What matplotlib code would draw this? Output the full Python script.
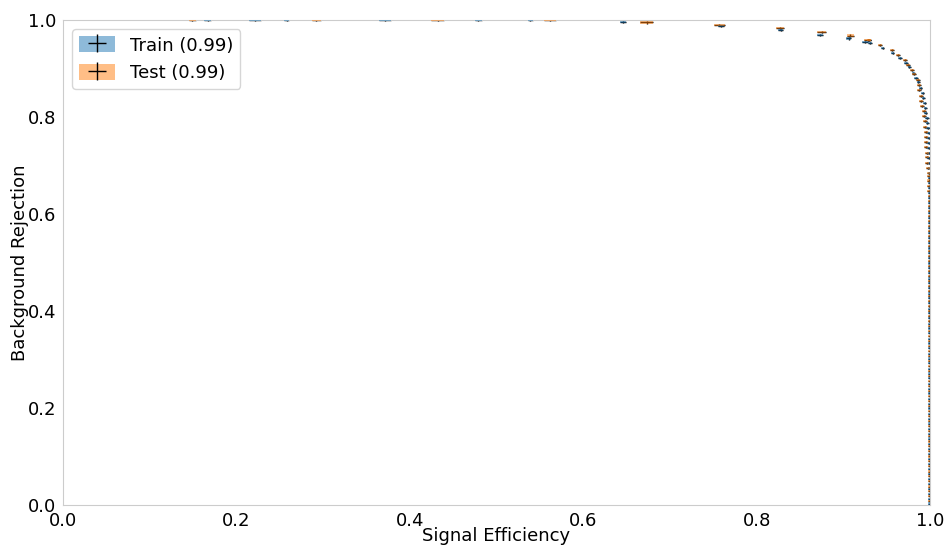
#!/usr/bin/env python3

import matplotlib
matplotlib.use("Agg")
import matplotlib.pyplot as plt
import seaborn as sns
from matplotlib.collections import PatchCollection
from matplotlib.patches import Patch, Rectangle

# ROC points: signal efficiency vs background rejection
train_eff = [0.167, 0.221, 0.258, 0.371, 0.479, 0.539, 0.646, 0.759, 0.828, 0.873, 0.906, 0.925,
             0.9308, 0.9455, 0.9570, 0.9654, 0.9723, 0.9761, 0.9807, 0.9839, 0.9865, 0.9893,
             0.9916, 0.9923, 0.9939, 0.9946, 0.9950, 0.9965, 0.9969, 0.9977, 0.9985, 0.9985,
             0.9985, 0.9988, 0.9988, 0.9988, 0.9992, 0.9996,
             0.9997, 0.9997, 0.9997, 0.9998, 0.9998, 0.9998, 0.9998, 0.9998, 0.9998, 0.9999,
             0.9999, 0.9999, 0.9999, 0.9999, 0.9999, 0.9999, 0.9999, 0.9999, 0.9999, 0.9999,
             0.9999, 0.9999, 0.9999, 0.9999, 0.9999, 0.9999, 0.9999, 0.9999, 0.9999, 0.9999,
             0.9999, 0.9999, 0.9999, 0.9999, 0.9999, 0.9999, 0.9999, 0.9999, 0.9999, 0.9999,
             0.9999, 0.9999, 0.9999, 0.9999, 0.9999, 0.9999, 0.9999, 0.9999, 0.9999, 0.9999,
             0.9999, 0.9999, 0.9999, 0.9999, 0.9999, 0.9999, 0.9999, 0.9999, 0.9999, 0.9999,
             0.9999, 0.9999, 0.9999, 0.9999, 0.9999, 0.9999, 1.0]
train_rej = [1.0, 1.0, 1.0, 1.0, 1.0, 1.0, 0.996, 0.987, 0.979, 0.970, 0.962, 0.955,
             0.9532, 0.9429, 0.9326, 0.9223, 0.9120, 0.9025, 0.8914, 0.8810, 0.8715, 0.8604,
             0.8501, 0.8398, 0.8295, 0.8192, 0.8089, 0.7986, 0.7883, 0.7779, 0.7676, 0.7573,
             0.7470, 0.7367, 0.7264, 0.7161, 0.7045, 0.6942,
             0.684, 0.674, 0.664, 0.653, 0.643, 0.633, 0.622, 0.612, 0.602, 0.591,
             0.581, 0.571, 0.560, 0.550, 0.540, 0.529, 0.519, 0.509, 0.498, 0.488,
             0.478, 0.467, 0.457, 0.447, 0.436, 0.426, 0.416, 0.405, 0.395, 0.385,
             0.374, 0.364, 0.354, 0.343, 0.333, 0.323, 0.312, 0.302, 0.292, 0.281,
             0.271, 0.261, 0.250, 0.240, 0.230, 0.219, 0.209, 0.199, 0.188, 0.178,
             0.168, 0.157, 0.147, 0.137, 0.126, 0.116, 0.106, 0.095, 0.085, 0.075,
             0.064, 0.054, 0.044, 0.033, 0.023, 0.013, 0.003]
train_xerr_top = [0.004, 0.007, 0.003, 0.007, 0.004, 0.003, 0.003, 0.003, 0.003, 0.003, 0.003, 0.003]

test_eff = [0.149, 0.292, 0.432, 0.562, 0.673, 0.757, 0.827, 0.875, 0.908, 0.928,
            0.9296, 0.9423, 0.9562, 0.9631, 0.9712, 0.9746, 0.9792, 0.9815, 0.9862, 0.9873,
            0.9873, 0.9896, 0.9896, 0.9908, 0.9931, 0.9931, 0.9942, 0.9942, 0.9954, 0.9954,
            0.9954, 0.9954, 0.9965, 0.9965, 0.9965, 0.9977, 0.9988,
            0.9988, 0.9989, 0.9989, 0.9989, 0.9990, 0.9990, 0.9990, 0.9990, 0.9991, 0.9991,
            0.9991, 0.9991, 0.9992, 0.9992, 0.9992, 0.9992, 0.9992, 0.9993, 0.9993, 0.9993,
            0.9993, 0.9993, 0.9993, 0.9994, 0.9994, 0.9994, 0.9994, 0.9994, 0.9994, 0.9994,
            0.9995, 0.9995, 0.9995, 0.9995, 0.9995, 0.9995, 0.9995, 0.9995, 0.9995, 0.9995,
            0.9996, 0.9996, 0.9996, 0.9996, 0.9996, 0.9996, 0.9996, 0.9996, 0.9996, 0.9996,
            0.9996, 0.9997, 0.9997, 0.9997, 0.9997, 0.9997, 0.9997, 0.9997, 0.9997, 0.9997,
            0.9997, 0.9997, 0.9997, 0.9997, 0.9997, 0.9997]
test_rej = [1.0, 1.0, 1.0, 1.0, 0.995, 0.989, 0.984, 0.976, 0.968, 0.959,
            0.9588, 0.9485, 0.9381, 0.9278, 0.9175, 0.9072, 0.8969, 0.8887, 0.8763, 0.8660,
            0.8557, 0.8433, 0.8330, 0.8227, 0.8124, 0.8021, 0.7918, 0.7794, 0.7691, 0.7588,
            0.7485, 0.7381, 0.7258, 0.7175, 0.7052, 0.6948, 0.6845,
            0.679, 0.669, 0.658, 0.648, 0.638, 0.627, 0.617, 0.607, 0.596, 0.586,
            0.576, 0.565, 0.555, 0.545, 0.534, 0.524, 0.514, 0.503, 0.493, 0.483,
            0.472, 0.462, 0.452, 0.441, 0.431, 0.421, 0.410, 0.400, 0.390, 0.379,
            0.369, 0.359, 0.348, 0.338, 0.328, 0.317, 0.307, 0.297, 0.286, 0.276,
            0.266, 0.255, 0.245, 0.235, 0.224, 0.214, 0.204, 0.193, 0.183, 0.173,
            0.162, 0.152, 0.142, 0.131, 0.121, 0.111, 0.100, 0.090, 0.080, 0.069,
            0.059, 0.049, 0.038, 0.028, 0.018, 0.008]
test_xerr_top = [0.004, 0.005, 0.007, 0.007, 0.007, 0.006, 0.005, 0.005, 0.004, 0.004]

tail_xerr = 0.0018
point_yerr = 0.0022

labels = ["Train (0.99)", "Test (0.99)"]


def draw_roc(ax, eff, rej, xerr_top, color):
    xerr = xerr_top + [tail_xerr] * (len(eff) - len(xerr_top))
    yerr = [point_yerr] * len(eff)
    eb = ax.errorbar(eff, rej, xerr=xerr, yerr=yerr, fmt="none",
                     ecolor="k", elinewidth=1, zorder=2)
    boxes = [Rectangle((x - xe, y - ye), 2 * xe, 2 * ye)
             for x, y, xe, ye in zip(eff, rej, xerr, yerr)]
    ax.add_collection(PatchCollection(boxes, facecolor=color, edgecolor="none",
                                      alpha=0.5, zorder=3))
    return (Patch(facecolor=color, alpha=0.5, edgecolor="none"), eb)


def main():
    sns.set_style("white")
    plt.rcParams["font.family"] = ["DejaVu Sans"]
    for key in ("text.color", "axes.labelcolor", "xtick.color", "ytick.color"):
        plt.rcParams[key] = "black"

    fig = plt.figure(figsize=(9.46, 5.47), dpi=100)
    ax = fig.add_axes([0.0666, 0.0768, 0.9165, 0.8866])

    h_train = draw_roc(ax, train_eff, train_rej, train_xerr_top, "C0")
    h_test = draw_roc(ax, test_eff, test_rej, test_xerr_top, "C1")

    ax.set_xlim(0, 1)
    ax.set_ylim(0, 1)
    ax.set_xlabel("Signal Efficiency", fontsize=13, labelpad=-2)
    ax.set_ylabel("Background Rejection", fontsize=13, labelpad=-1)
    ax.tick_params(labelsize=13, length=0, pad=5)
    for s in ax.spines.values():
        s.set_color("#cccccc")

    ax.legend([h_train, h_test], labels, loc="upper left", fontsize=13,
              frameon=True, handlelength=2.0, handleheight=1.0)

    fig.savefig("out.png", dpi=100)


if __name__ == "__main__":
    main()
